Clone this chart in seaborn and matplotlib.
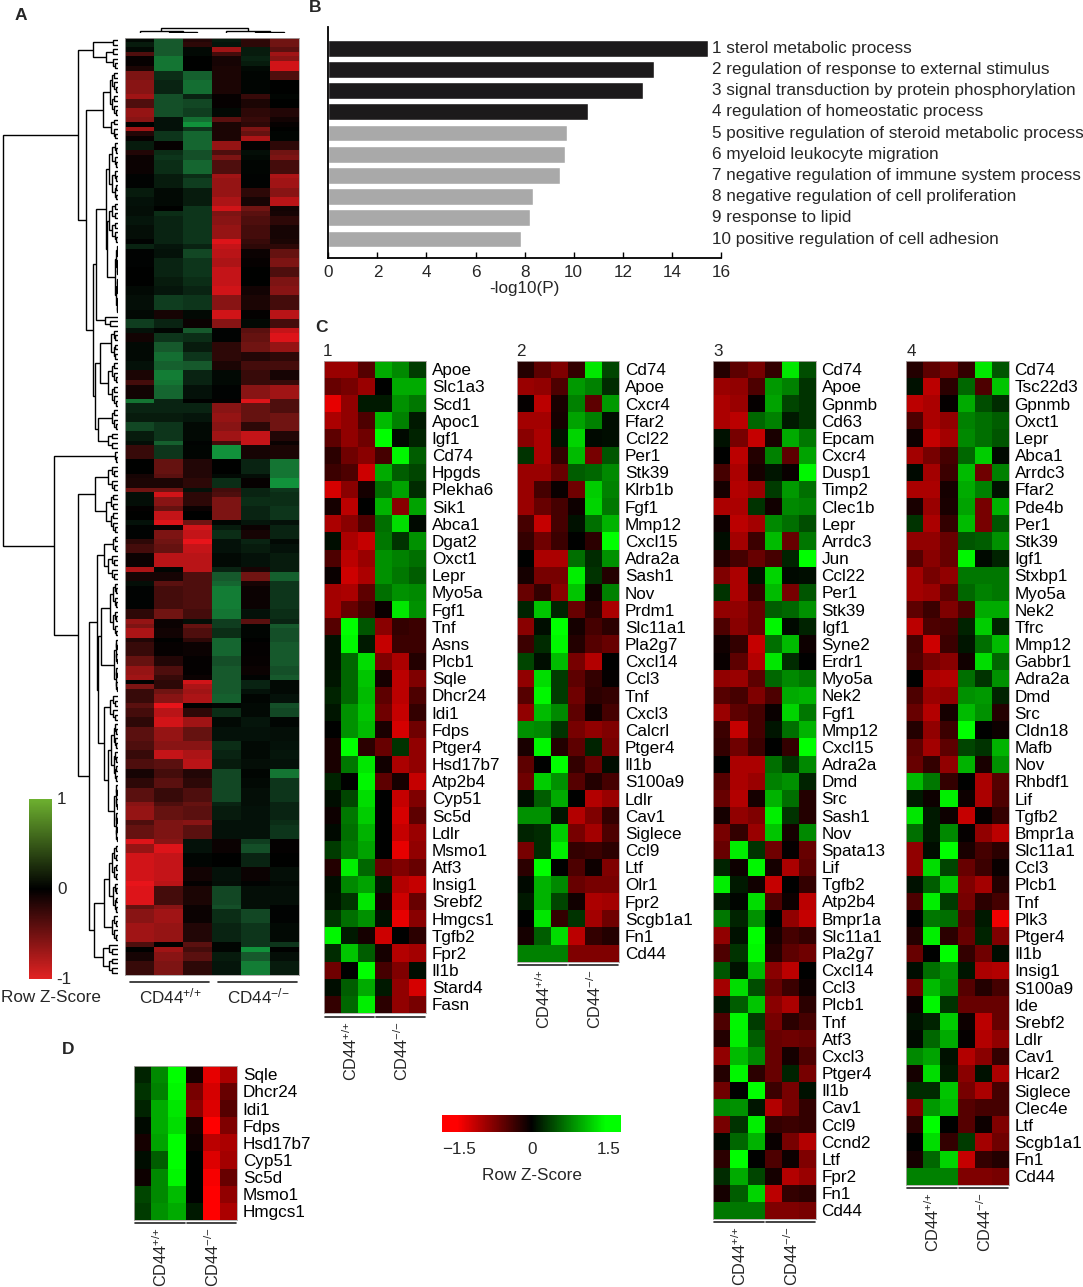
import numpy as np
import pandas as pd
import matplotlib
matplotlib.use('Agg')
import matplotlib.pyplot as plt
from matplotlib.colors import LinearSegmentedColormap
import seaborn as sns

sns.set_theme(style='white')
plt.rcParams['font.family'] = ['Liberation Sans', 'DejaVu Sans']
plt.rcParams['mathtext.default'] = 'regular'

W, H = 1083, 1287
FS = 12.3

# panel B
terms = ['1 sterol metabolic process', '2 regulation of response to external stimulus',
         '3 signal transduction by protein phosphorylation', '4 regulation of homeostatic process',
         '5 positive regulation of steroid metabolic process', '6 myeloid leukocyte migration',
         '7 negative regulation of immune system process', '8 negative regulation of cell proliferation',
         '9 response to lipid', '10 positive regulation of cell adhesion']
log_p = [15.48, 13.28, 12.83, 10.57, 9.71, 9.66, 9.44, 8.33, 8.2, 7.86]
bar_colors = ['#1c1a1b'] * 4 + ['#a9a9a9'] * 6

# panel A, rows repeated run_len times
a_run_len = [1, 1, 1, 1, 1, 1, 1, 2, 3, 1, 2, 2, 1, 1, 1, 1, 1, 2, 1, 1, 3, 1, 2, 2, 2, 1, 1, 2, 3, 1,
             1, 2, 2, 2, 2, 2, 3, 2, 2, 1, 2, 2, 2, 2, 2, 1, 3, 1, 2, 2, 2, 2, 1, 3, 3, 1, 2, 1,
             1, 2, 1, 2, 1, 1, 2, 1, 2, 3, 1, 2, 1, 5, 2, 1, 1, 2, 1, 3, 2, 2, 1, 1, 1, 1, 2, 1, 2, 2, 3, 2, 2, 2, 2,
             2, 3, 1, 3, 1, 3, 1, 2, 3, 3, 1, 4, 1, 3, 4, 1, 1, 2, 3]
a_values = [
    [.05, .5, -.15, .15, -.2, -.5], [.15, .5, -.2, .12, -.2, -.5], [.05, .5, .05, -.7, .15, -.4],
    [-.35, .5, .05, -.3, .15, -.7], [-.03, .7, 0, -.1, .2, -.6], [-.03, .7, 0, -.1, .15, -.9],
    [-.12, .7, 0, -.12, .05, -.9], [-.55, .25, .55, -.12, .03, -.35], [-.6, .2, .65, -.12, .03, 0],
    [-.7, .45, .2, -.03, -.25, .03], [-.35, .45, .4, -.03, -.12, 0], [-.65, .45, .35, .05, -.2, -.15],
    [-.6, .1, .65, -.4, -.25, -.08], [0, .1, .9, -.12, -.2, -.03], [-.7, .1, .3, -.12, -.55, 0],
    [-.15, .3, .6, -.12, -.45, .03], [-.03, .3, .6, -.12, -.75, .03], [.15, -.03, .6, -.65, -.02, -.2],
    [-.15, .25, .45, -.35, .08, -.5], [-.05, .3, .45, -.55, .05, -.55], [-.05, .25, .6, -.35, .03, -.3],
    [.02, .15, .25, -.7, .02, -.75], [.02, .15, .35, -.65, .02, -.7], [.15, .05, .15, -.65, -.2, -.6],
    [.1, .05, .15, -.75, -.1, -.8], [.08, 0, .3, -.9, -.5, -.08], [.08, .25, .3, -.55, -.4, -.1],
    [.12, .2, .3, -.6, -.35, -.2], [.08, .2, .3, -.65, -.3, -.1], [.02, .2, .3, -.95, -.25, -.12],
    [.2, .12, .2, -.85, -.2, -.2], [.02, .1, .4, -.8, -.05, -.45], [.02, .2, .3, -.75, -.03, -.55],
    [0, .2, .3, -.85, 0, -.35], [0, .15, .25, -.85, 0, -.55],
    [.05, .12, .2, -.9, -.08, -.6], [.08, .35, .3, -.6, -.12, -.3], [.05, -.1, .05, -.9, -.02, -.8],
    [.35, .2, -.05, -.6, .05, -.3], [.1, .03, .5, .02, -.4, -.85], [-.08, .3, .25, .02, -.45, -.95],
    [.05, .5, .15, -.2, -.5, -.65], [.05, .65, .3, -.2, -.15, -.2], [.1, .55, .5, -.12, -.3, -.3],
    [-.12, .75, .2, .05, -.25, -.1], [-.3, .7, .2, .05, -.25, -.25], [-.08, .6, .1, .02, -.6, -.7],
    [.7, .2, 0, -.02, -.95, -.35], [.2, .2, .2, -.6, -.45, -.35], [.15, .15, .12, -.65, -.45, -.5],
    [.4, .3, .05, -.6, -.2, -.5], [.15, .3, .05, -.7, -.85, -.15], [.08, .55, .02, -.3, -.85, -.05],
    [-.25, .3, .03, .9, -.1, -.12], [0, -.45, -.15, 0, .2, .7], [-.1, -.4, -.15, .05, .08, .7],
    [-.12, -.12, -.2, .25, -.03, .9], [-.5, -.5, .1, -.3, .2, .3],
    [.08, -.9, -.2, -.35, .2, .25], [.08, -.6, -.2, -.55, .25, .25], [-.02, -.45, -.05, -.55, .2, .3],
    [0, -.85, 0, -.55, .2, .3], [.1, -.95, -.5, .03, .12, .1], [.02, -.05, -.9, .15, -.05, .2],
    [.02, -.55, -.85, .25, -.1, .2], [-.2, -.5, -1, .1, .2, .05], [-.3, -.45, -.85, .1, .15, .1],
    [-.05, -.8, -.8, .05, .1, .15], [-.75, .03, -.8, .2, -.1, .15], [-.1, -.1, -.35, .5, -.5, .55],
    [.08, -.4, -.35, .6, -.1, .3], [.02, -.3, -.35, .75, -.05, .3], [-.2, -.5, -.3, .7, .1, .25],
    [-.65, -.05, .08, .35, -.4, .2], [-.55, -.05, -.45, .35, .03, .5], [-.75, -.08, -.35, .25, .03, .45],
    [-.15, 0, -.2, .6, 0, .45], [-.25, -.03, -.05, .6, -.02, .5], [-.45, -.15, -.02, .45, -.03, .5],
    [-.65, -.35, -.02, .5, -.05, .45], [-.7, -.25, -.05, .5, .02, .5], [.02, -.2, -.9, .5, .2, .05],
    [-.55, -.2, -.75, .5, .2, .05], [-.25, -.5, -.7, .5, .1, .05], [-.25, -.6, -.75, .55, .03, .1],
    [-.4, -1, 0, .03, .05, .45], [-.3, -.8, -.2, .25, .05, .4], [-.2, -.9, -.7, .05, .12, .03],
    [-.4, -.65, -.45, .1, .1, .08], [-.35, -.6, -.6, .25, .05, .1], [-.25, -.85, -.75, .2, .05, .12],
    [-.35, -.4, -.8, .15, .08, .1], [-.1, -.3, -.15, .4, .03, .7],
    [-.2, -.4, -.2, .4, .05, .3], [-.4, -.25, -.35, .4, .08, .3], [-.6, -.35, -.45, .2, .08, .2],
    [-.65, -.45, -.4, .15, .1, .2], [-.35, -.55, -.6, .1, .1, .25], [-.45, -.55, -.4, .1, .1, .3],
    [-.95, -.6, .1, -.05, .35, -.02], [-.65, -.95, .1, -.05, .45, -.02], [-.9, -.85, .03, 0, .2, 0],
    [-.9, -.85, -.08, .1, -.05, .08], [-1, -.8, -.02, .08, .02, .05], [-.95, -.3, -.12, .4, .08, .08],
    [-.45, -.6, -.05, .45, .08, .02], [-.6, -.7, -.05, .25, .4, .02], [-.7, -.65, -.15, .2, .3, .05],
    [-.35, 0, -.4, .03, .3, .3], [0, -.7, -.3, .03, .9, 0], [-.1, -.6, -.4, .15, .5, .08],
    [-.25, -.55, -.2, .12, .75, .15],
]

# dendrogram heights in px; (height, left, right), [first row, last row, height] = leaf group
a_row_tree = (115.5,
              (40,
               (25, [0, 2, 5], (12, [2, 4, 5], [4, 7, 5])),
               (32,
                (15, (8, [7, 12, 6], [12, 17, 6]), [17, 22, 7]),
                (25,
                 (22, (12.5, [22, 35, 9], (11, [35, 44, 9], [44, 59, 3])), [59, 62, 13]),
                 (23.5, (18, [62, 69, 7], [69, 79, 10]), (20, [79, 84, 6], [84, 88, 10]))))),
              (64,
               [88, 91, 3],
               (40,
                (23, [91, 97, 10], [97, 106, 12]),
                (29,
                 (21, (14, [106, 110, 5], [110, 116, 10]),
                  (20.5, (17, [116, 128, 8], [128, 140, 4]),
                   (14, [140, 146, 8], (10.5, [146, 159, 7], [159, 172, 4])))),
                 (24, (14, (9, [172, 180, 6], [180, 187, 5]), [187, 193, 6]), [193, 200, 15])))))
a_col_tree = (5.3, (2.3, [0, 1, 0], (1.3, [1, 2, 0], [2, 3, 0])),
              (2.3, [3, 4, 0], (1.3, [4, 5, 0], [5, 6, 0])))

# panel C, list 1
p1_genes = ['Apoe', 'Slc1a3', 'Scd1', 'Apoc1', 'Igf1', 'Cd74', 'Hpgds', 'Plekha6', 'Sik1', 'Abca1', 'Dgat2', 'Oxct1',
            'Lepr', 'Myo5a', 'Fgf1', 'Tnf', 'Asns', 'Plcb1', 'Sqle', 'Dhcr24', 'Idi1', 'Fdps', 'Ptger4', 'Hsd17b7',
            'Atp2b4', 'Cyp51', 'Sc5d', 'Ldlr', 'Msmo1', 'Atf3', 'Insig1', 'Srebf2', 'Hmgcs1', 'Tgfb2', 'Fpr2', 'Il1b',
            'Stard4', 'Fasn']
p1_vals = [
    [-.9, -.9, -.5, 1.0, .8, .35], [-.6, -.7, -.9, 0, 1.0, 1.0], [-1.35, -.85, .15, .15, .85, .7],
    [-1.0, -.85, -.45, 1.1, .75, .15], [-.55, -.85, -.65, 1.5, .05, .2], [-.25, -.65, -.8, -.4, 1.45, .55],
    [-.35, -.45, -1.2, 1.0, .55, .4], [-1.25, -.8, -.12, .65, .95, .25], [-.12, -1.1, 0, 1.05, -.8, .95],
    [-1.0, -.8, -.45, .65, 1.3, .05], [.08, -1.0, -1.15, .7, .3, .85], [-.45, -1.1, -.9, .85, .75, .65],
    [-.05, -1.2, -1.0, .85, .7, .55], [-.95, -1.0, -.55, .65, .85, .8], [-.95, -.6, -.4, -.05, 1.35, .85],
    [-.5, 1.5, .5, -.8, -.3, -.35], [.1, 1.45, .15, -1.15, -.35, -.35], [.1, .6, 1.3, -.75, -1.0, -.2],
    [.12, .6, 1.15, -.12, -1.1, -.75], [.2, .6, 1.1, -.55, -1.1, -.45], [.12, .85, 1.15, -.65, -1.15, -.3],
    [0, .85, 1.1, -.15, -1.25, -.65], [-.15, 1.5, -.25, -.6, .3, -.85], [-.15, .7, 1.35, -.1, -1.0, -.85],
    [.2, 0, 1.45, -.55, -.12, -1.15], [.08, .4, 1.3, 0, -1.15, -.75], [-.08, .7, 1.2, 0, -1.25, -.55],
    [.05, .65, 1.05, 0, -1.15, -.9], [.35, .7, .95, 0, -1.35, -.85], [-.2, 1.4, .6, -.6, -.75, -.6],
    [.08, .8, .95, .15, -1.05, -1.15], [.1, .3, 1.35, -.1, -1.2, -.6], [.3, .65, .85, .1, -1.35, -.8],
    [1.45, .15, -.12, -1.2, 0, -.25], [.25, 1.15, .55, -.12, -1.05, -.95], [-.65, 0, 1.5, -.4, -.75, .08],
    [.08, .55, 1.0, .15, -.85, -1.25], [-.3, .6, 1.4, -.25, -.85, -.7],
]

# panel C, list 2
p2_genes = ['Cd74', 'Apoe', 'Cxcr4', 'Ffar2', 'Ccl22', 'Per1', 'Stk39', 'Klrb1b', 'Fgf1', 'Mmp12', 'Cxcl15', 'Adra2a',
            'Sash1', 'Nov', 'Prdm1', 'Slc11a1', 'Pla2g7', 'Cxcl14', 'Ccl3', 'Tnf', 'Cxcl3', 'Calcrl', 'Ptger4', 'Il1b',
            'S100a9', 'Ldlr', 'Cav1', 'Siglece', 'Ccl9', 'Ltf', 'Olr1', 'Fpr2', 'Scgb1a1', 'Fn1', 'Cd44']
p2_vals = [
    [-.2, -.55, -.75, -.3, 1.35, .4], [-.9, -.85, -.45, .9, .75, .25], [-.03, -1.1, -.15, .75, -.55, .9],
    [-.95, -.95, -.12, .95, .75, .08], [-.8, -1.0, .1, 1.25, .05, .08], [.3, -1.0, -.3, 1.1, -.7, .5],
    [-.9, -.9, -.6, .55, .6, .8], [-.9, -.4, -.05, -.65, 1.2, .75], [-.9, -.6, -.4, -.08, 1.25, .7],
    [-.4, -1.15, -.4, .1, .65, 1.05], [-.3, -.65, -.35, 0, -.25, 1.5], [0, -1.0, -1.0, .65, .25, .85],
    [-.12, -.7, -.7, 1.4, .3, -.2], [-.6, -.3, -.8, 1.15, -.1, .75], [.2, 1.15, .2, -.6, -.25, -1.0],
    [-.8, .08, 1.5, -.12, -.4, -.25], [-.35, .25, 1.45, -.2, -.5, -.6], [.4, .08, 1.1, -.7, -1.05, 0],
    [-.85, 1.3, .35, -.55, -.3, -.03], [-.5, 1.45, .35, -.65, -.25, -.3], [-.85, 1.1, .8, -.55, -.1, -.4],
    [.85, .8, .3, -.7, -.85, -.75], [-.15, 1.45, -.2, -.55, .2, -.7], [-.55, 0, 1.5, -.3, -.6, .08],
    [-.65, 1.2, .85, -.5, -.2, -.4], [.08, .55, 1.0, 0, -1.05, -.9], [.85, .85, .12, -1.05, -.75, -.3],
    [.2, .25, 1.2, -.7, -.95, -.45], [-.7, .25, 1.4, -.3, -.35, -.25], [-.25, 1.5, 0, -.45, -.08, -.75],
    [.05, 1.05, .8, -.6, -.7, -.7], [.15, 1.05, .4, -.1, -1.0, -.95], [0, 1.35, -.3, .3, -.95, -.65],
    [-.12, .55, 1.3, -1.1, -.3, -.2], [.75, .75, .75, -.75, -.75, -.75],
]

# panel C, list 3
p3_genes = ['Cd74', 'Apoe', 'Gpnmb', 'Cd63', 'Epcam', 'Cxcr4', 'Dusp1', 'Timp2', 'Clec1b', 'Lepr', 'Arrdc3', 'Jun',
            'Ccl22', 'Per1', 'Stk39', 'Igf1', 'Syne2', 'Erdr1', 'Myo5a', 'Nek2', 'Fgf1', 'Mmp12', 'Cxcl15', 'Adra2a',
            'Dmd', 'Src', 'Sash1', 'Nov', 'Spata13', 'Lif', 'Tgfb2', 'Atp2b4', 'Bmpr1a', 'Slc11a1', 'Pla2g7', 'Cxcl14',
            'Ccl3', 'Plcb1', 'Tnf', 'Atf3', 'Cxcl3', 'Ptger4', 'Il1b', 'Cav1', 'Ccl9', 'Ccnd2', 'Ltf', 'Fpr2', 'Fn1',
            'Cd44']
p3_vals = [
    [-.2, -.55, -.7, -.3, 1.35, .45], [-.9, -.85, -.45, .9, .75, .3], [-1.0, -.9, -.03, .95, .4, .3],
    [-1.0, -1.1, .6, .75, .15, .3], [.1, -.7, -1.15, -.15, 1.0, .7], [0, -1.1, -.2, .75, -.55, .95],
    [-.4, -1.0, -.12, .12, -.05, 1.45], [-.12, -1.05, -.9, .35, .9, .65], [-1.0, -1.0, .3, -.1, .8, .75],
    [-.08, -1.1, -.95, .8, .65, .45], [.08, -.95, -.35, 1.1, -.6, .7], [-.2, -.4, -.6, -.4, .2, 1.5],
    [-.75, -1.0, .1, 1.25, .05, .08], [.3, -1.0, -.3, 1.1, -.7, .5], [-.85, -.85, -.6, .55, .6, .85],
    [-.45, -.8, -.6, 1.45, .05, .2], [-.1, -.3, -1.15, .65, 1.1, -.08], [-.05, -.55, -1.05, 1.35, .25, 0],
    [-.85, -.9, -.55, .6, .8, .7], [-.5, -.4, -.75, -.45, 1.0, 1.05], [-.9, -.55, -.4, -.05, 1.25, .7],
    [-.35, -1.15, -.4, .12, .65, 1.05], [-.3, -.65, -.35, 0, -.3, 1.5], [0, -1.0, -1.0, .65, .3, .8],
    [-.5, -1.0, -.9, .75, .85, .2], [-.6, -1.05, -.12, 1.05, .65, -.2], [-.12, -.85, -.75, 1.4, .3, -.2],
    [-.7, -.3, -.9, 1.15, -.12, .8], [-.6, 1.4, .3, -.65, -.03, -.6], [.2, -.08, 1.45, -.12, -1.0, -.55],
    [1.4, .15, -.1, -1.15, 0, -.3], [.15, .03, 1.3, -.45, -.08, -1.1], [.7, .2, .85, 0, -.85, -1.15],
    [-.85, .1, 1.5, -.12, -.4, -.3], [-.45, .3, 1.45, -.2, -.55, -.65], [.5, .1, 1.1, -.8, -1.1, 0],
    [-.95, 1.3, .45, -.6, -.35, -.08], [.12, .55, 1.15, -.8, -1.0, -.25], [-.45, 1.45, .35, -.7, -.25, -.4],
    [-.2, 1.4, .55, -.6, -.65, -.6], [-.85, 1.1, .8, -.6, -.12, -.45], [-.2, 1.45, -.25, -.6, .2, -.7],
    [-.65, 0, 1.5, -.35, -.7, .1], [.8, .85, .12, -1.05, -.7, -.3], [-.7, .3, 1.4, -.3, -.35, -.3],
    [.05, .6, 1.05, -.05, -.7, -1.05], [-.25, 1.5, 0, -.45, -.08, -.75], [.25, 1.0, .4, -.12, -1.05, -.9],
    [-.12, .55, 1.25, -1.1, -.3, -.25], [.7, .7, .7, -.75, -.75, -.7],
]

# panel C, list 4
p4_genes = ['Cd74', 'Tsc22d3', 'Gpnmb', 'Oxct1', 'Lepr', 'Abca1', 'Arrdc3', 'Ffar2', 'Pde4b', 'Per1', 'Stk39', 'Igf1',
            'Stxbp1', 'Myo5a', 'Nek2', 'Tfrc', 'Mmp12', 'Gabbr1', 'Adra2a', 'Dmd', 'Src', 'Cldn18', 'Mafb', 'Nov',
            'Rhbdf1', 'Lif', 'Tgfb2', 'Bmpr1a', 'Slc11a1', 'Ccl3', 'Plcb1', 'Tnf', 'Plk3', 'Ptger4', 'Il1b', 'Insig1',
            'S100a9', 'Ide', 'Srebf2', 'Ldlr', 'Cav1', 'Hcar2', 'Siglece', 'Clec4e', 'Ltf', 'Scgb1a1', 'Fn1', 'Cd44']
p4_vals = [
    [-.2, -.55, -.7, -.3, 1.35, .5], [.1, -1.1, -.25, .6, -.45, 1.15], [-1.1, -1.0, -.03, 1.0, .45, .25],
    [-.45, -1.0, -.85, .75, .65, .55], [-.08, -1.15, -.95, .8, .65, .5], [-.95, -.7, -.4, .6, 1.2, .05],
    [.05, -.95, -.35, 1.1, -.65, .75], [-1.0, -1.0, -.12, 1.0, .75, .1], [-.15, -.9, -.15, .95, -.7, 1.05],
    [.3, -1.0, -.3, 1.1, -.7, .5], [-.85, -.85, -.6, .5, .55, .85], [-.5, -.8, -.6, 1.45, .05, .2],
    [-.95, -.7, -.85, .7, .7, .7], [-.95, -.9, -.55, .6, .75, .7], [-.55, -.35, -.75, -.45, 1.0, 1.0],
    [-1.1, -.45, -.4, .2, 1.2, .2], [-.4, -1.2, -.35, .12, .65, 1.1], [-.45, -.7, -.8, -.1, 1.3, .6],
    [0, -1.0, -1.05, .65, .3, .85], [-.45, -.9, -.85, .85, .9, .2], [-.6, -1.05, -.12, 1.1, .85, -.2],
    [-.2, -.85, -.35, 1.5, 0, -.08], [-.55, -.95, -.55, .4, .3, 1.05], [-.6, -.3, -.85, 1.05, -.15, .85],
    [1.1, .7, -.3, 0, -1.0, -.5], [.15, -.08, 1.4, -.08, -1.0, -.45], [1.35, .15, -.08, -1.15, -.03, -.3],
    [.65, .15, .8, -.03, -.85, -1.1], [-.85, .08, 1.5, -.15, -.4, -.25], [-.85, 1.3, .4, -.6, -.35, -.05],
    [.1, .55, 1.2, -.75, -.95, -.2], [-.45, 1.4, .35, -.7, -.25, -.4], [0, .7, .65, -.5, .15, -1.4],
    [-.2, 1.4, -.25, -.6, .2, -.75], [-.6, 0, 1.5, -.3, -.65, .08], [.08, .65, .85, .12, -1.0, -1.05],
    [-.65, 1.1, .8, -.5, -.2, -.4], [-.05, 1.45, .3, -.6, -.6, -.6], [.1, .2, 1.2, -.08, -1.1, -.6],
    [.05, .6, 1.0, -.03, -1.05, -.85], [.8, .95, .1, -1.05, -.8, -.3], [-.12, 1.3, .15, -.8, .1, -1.0],
    [.25, .25, 1.15, -.7, -1.0, -.4], [-.75, .9, 1.1, -.5, -.4, -.4], [-.25, 1.5, 0, -.5, -.08, -.75],
    [0, 1.3, -.3, .35, -.95, -.65], [-.12, .6, 1.25, -1.15, -.3, -.2], [.75, .75, .75, -.75, -.75, -.7],
]

# panel D
d_genes = ['Sqle', 'Dhcr24', 'Idi1', 'Fdps', 'Hsd17b7', 'Cyp51', 'Sc5d', 'Msmo1', 'Hmgcs1']
d_vals = [
    [.2, .8, 1.5, -.12, -1.35, -1.0], [.3, .75, 1.45, -.7, -1.25, -.6], [.2, 1.0, 1.35, -.8, -1.3, -.5],
    [.05, 1.0, 1.3, -.15, -1.5, -.75], [-.12, .95, 1.5, -.08, -1.1, -1.0], [.08, .55, 1.5, 0, -1.3, -.95],
    [-.08, .8, 1.45, 0, -1.45, -.6], [.4, .8, 1.1, 0, -1.5, -.85], [.35, .85, 1.0, .15, -1.5, -1.0],
]

columns = ['WT1', 'WT2', 'WT3', 'KO1', 'KO2', 'KO3']
wt_label = 'CD44$^{{+}/{+}}$'
ko_label = 'CD44$^{{-}/{-}}$'

cmap_a = LinearSegmentedColormap.from_list('a', [(0, '#e8141a'), (.25, '#701412'), (.5, '#000000'),
                                                 (.75, '#16582c'), (1, '#10a03e')])
cmap_abar = LinearSegmentedColormap.from_list('abar', ['#e12222', '#000000', '#6db02f'])
cmap_c = LinearSegmentedColormap.from_list('c', ['#ff0000', '#000000', '#00ff00'])

fig = plt.figure(figsize=(W / 100, H / 100), dpi=100, facecolor='white')


def px_axes(x0, y0, x1, y1):
    return fig.add_axes([x0 / W, 1 - y1 / H, (x1 - x0) / W, (y1 - y0) / H])


page = px_axes(0, 0, W, H)
page.set_xlim(0, W)
page.set_ylim(H, 0)
page.axis('off')
page.set_zorder(10)


def draw_tree(ax, node, vertical=False, lw=1.0):
    # returns position along the leaves and height of the node
    if isinstance(node, list):
        first, last, h = node
        if last - first <= 1:
            return first + .5, 0
        mid = first + max(1, (last - first) // 2)
        node = (h, [first, mid, h * .62], [mid, last, h * .62])
    h, left, right = node
    p1, h1 = draw_tree(ax, left, vertical, lw)
    p2, h2 = draw_tree(ax, right, vertical, lw)
    xs, ys = [h1, h, h, h2], [p1, p1, p2, p2]
    if vertical:
        xs, ys = ys, xs
    ax.plot(xs, ys, color='black', lw=lw, solid_joinstyle='miter', solid_capstyle='butt')
    return (p1 + p2) / 2, h


def heat_panel(genes, vals, x0, y0, x1, y1):
    ax = px_axes(x0, y0, x1, y1)
    df = pd.DataFrame(vals, index=genes, columns=columns)
    sns.heatmap(df, cmap=cmap_c, vmin=-1.5, vmax=1.5, cbar=False, xticklabels=False, yticklabels=True, ax=ax)
    ax.yaxis.tick_right()
    ax.tick_params(axis='y', length=0, pad=4, labelsize=FS, labelrotation=0, labelcolor='black')
    ax.set_xlabel('')
    for s in ax.spines.values():
        s.set_visible(True)
        s.set_color('#b0a8a8')
        s.set_linewidth(.6)
    return ax


def group_marks(x0, x1, y):
    # bars and vertical labels under a heatmap
    w = (x1 - x0) / 2
    page.plot([x0 + 1, x0 + w - 1], [y, y], color='#222222', lw=1.2)
    page.plot([x0 + w + 1, x1 - 1], [y, y], color='#222222', lw=1.2)
    page.text(x0 + w / 2 + 1, y + 4, wt_label, rotation=90, ha='center', va='top', fontsize=11.7)
    page.text(x0 + 1.5 * w + 1, y + 4, ko_label, rotation=90, ha='center', va='top', fontsize=11.7)


# panel A
ax_a = px_axes(125, 37.7, 299, 975)
rows_a = np.repeat(np.array(a_values), a_run_len, axis=0)
sns.heatmap(pd.DataFrame(rows_a, columns=columns), cmap=cmap_a, vmin=-1, vmax=1, cbar=False,
            xticklabels=False, yticklabels=False, ax=ax_a)
for s in ax_a.spines.values():
    s.set_visible(True)
    s.set_color('#a8a4a4')
    s.set_linewidth(.6)

ax_rt = px_axes(0, 37.7, 118, 975)
ax_rt.set_xlim(118, 0)
ax_rt.set_ylim(200, 0)
ax_rt.axis('off')
draw_tree(ax_rt, a_row_tree)

ax_ct = px_axes(125, 26, 299, 33)
ax_ct.set_xlim(0, 6)
ax_ct.set_ylim(0, 7)
ax_ct.axis('off')
draw_tree(ax_ct, a_col_tree, vertical=True)

page.plot([130, 209], [982, 982], color='#222222', lw=1.2)
page.plot([218, 297], [982, 982], color='#222222', lw=1.2)
page.text(170, 996, wt_label, ha='center', va='center', fontsize=FS)
page.text(258, 996, ko_label, ha='center', va='center', fontsize=FS)

ax_abar = px_axes(29, 799, 52, 979)
sns.heatmap(np.linspace(1, -1, 256)[:, None], cmap=cmap_abar, vmin=-1, vmax=1, cbar=False,
            xticklabels=False, yticklabels=False, ax=ax_abar)
page.text(62, 800, '1', ha='center', va='center', fontsize=FS)
page.text(62, 889, '0', ha='center', va='center', fontsize=FS)
page.text(64, 979, '-1', ha='center', va='center', fontsize=FS)
page.text(51, 997, 'Row Z-Score', ha='center', va='center', fontsize=FS)

# panel B
ax_b = px_axes(328.3, 27, 721, 257.7)
sns.barplot(x=log_p, y=terms, hue=terms, palette=bar_colors, dodge=False, legend=False, width=.79, ax=ax_b)
ax_b.set_xlim(0, 16)
ax_b.set_ylim(9.88, -1)
ax_b.set_yticks([])
ax_b.set_ylabel('')
ax_b.set_xticks(range(0, 17, 2))
ax_b.tick_params(axis='x', direction='in', length=4, width=1, labelsize=FS, pad=5, bottom=True, color='black')
ax_b.set_xlabel('-log10(P)', fontsize=FS, labelpad=1)
for side in ['top', 'right']:
    ax_b.spines[side].set_visible(False)
for side in ['left', 'bottom']:
    ax_b.spines[side].set_color('black')
    ax_b.spines[side].set_linewidth(1.3)
for i, term in enumerate(terms):
    page.text(712, 48.3 + 21.2 * i, term, ha='left', va='center', fontsize=FS)

# panel C
heat_panel(p1_genes, p1_vals, 323.7, 360.7, 426.3, 1013)
group_marks(323.7, 426.3, 1017)
heat_panel(p2_genes, p2_vals, 516.7, 360.7, 619.3, 961.7)
group_marks(516.7, 619.3, 965)
heat_panel(p3_genes, p3_vals, 713.3, 360.7, 816, 1219)
group_marks(713.3, 816, 1222)
heat_panel(p4_genes, p4_vals, 906, 360.7, 1009, 1185)
group_marks(906, 1009, 1188)
for num, x in zip('1234', [328, 521, 718, 911]):
    page.text(x, 352, num, ha='center', va='center', fontsize=FS)

# panel D
heat_panel(d_genes, d_vals, 134, 1065.7, 237.3, 1220)
group_marks(134, 237.3, 1223)

ax_cbar = px_axes(442, 1115, 621, 1132)
sns.heatmap(np.linspace(-1.8, 1.8, 256)[None, :], cmap=cmap_c, vmin=-1.5, vmax=1.5, cbar=False,
            xticklabels=False, yticklabels=False, ax=ax_cbar)
page.text(459, 1149, '\u22121.5', ha='center', va='center', fontsize=FS)
page.text(532, 1149, '0', ha='center', va='center', fontsize=FS)
page.text(609, 1149, '1.5', ha='center', va='center', fontsize=FS)
page.text(532, 1176, 'Row Z-Score', ha='center', va='center', fontsize=FS)

# panel letters
for letter, x, y in [('A', 21, 15), ('B', 315, 8), ('C', 322, 327), ('D', 68, 1050)]:
    page.text(x, y, letter, ha='center', va='center', fontsize=12.5, fontweight='bold')

fig.savefig('out.png', dpi=100)
